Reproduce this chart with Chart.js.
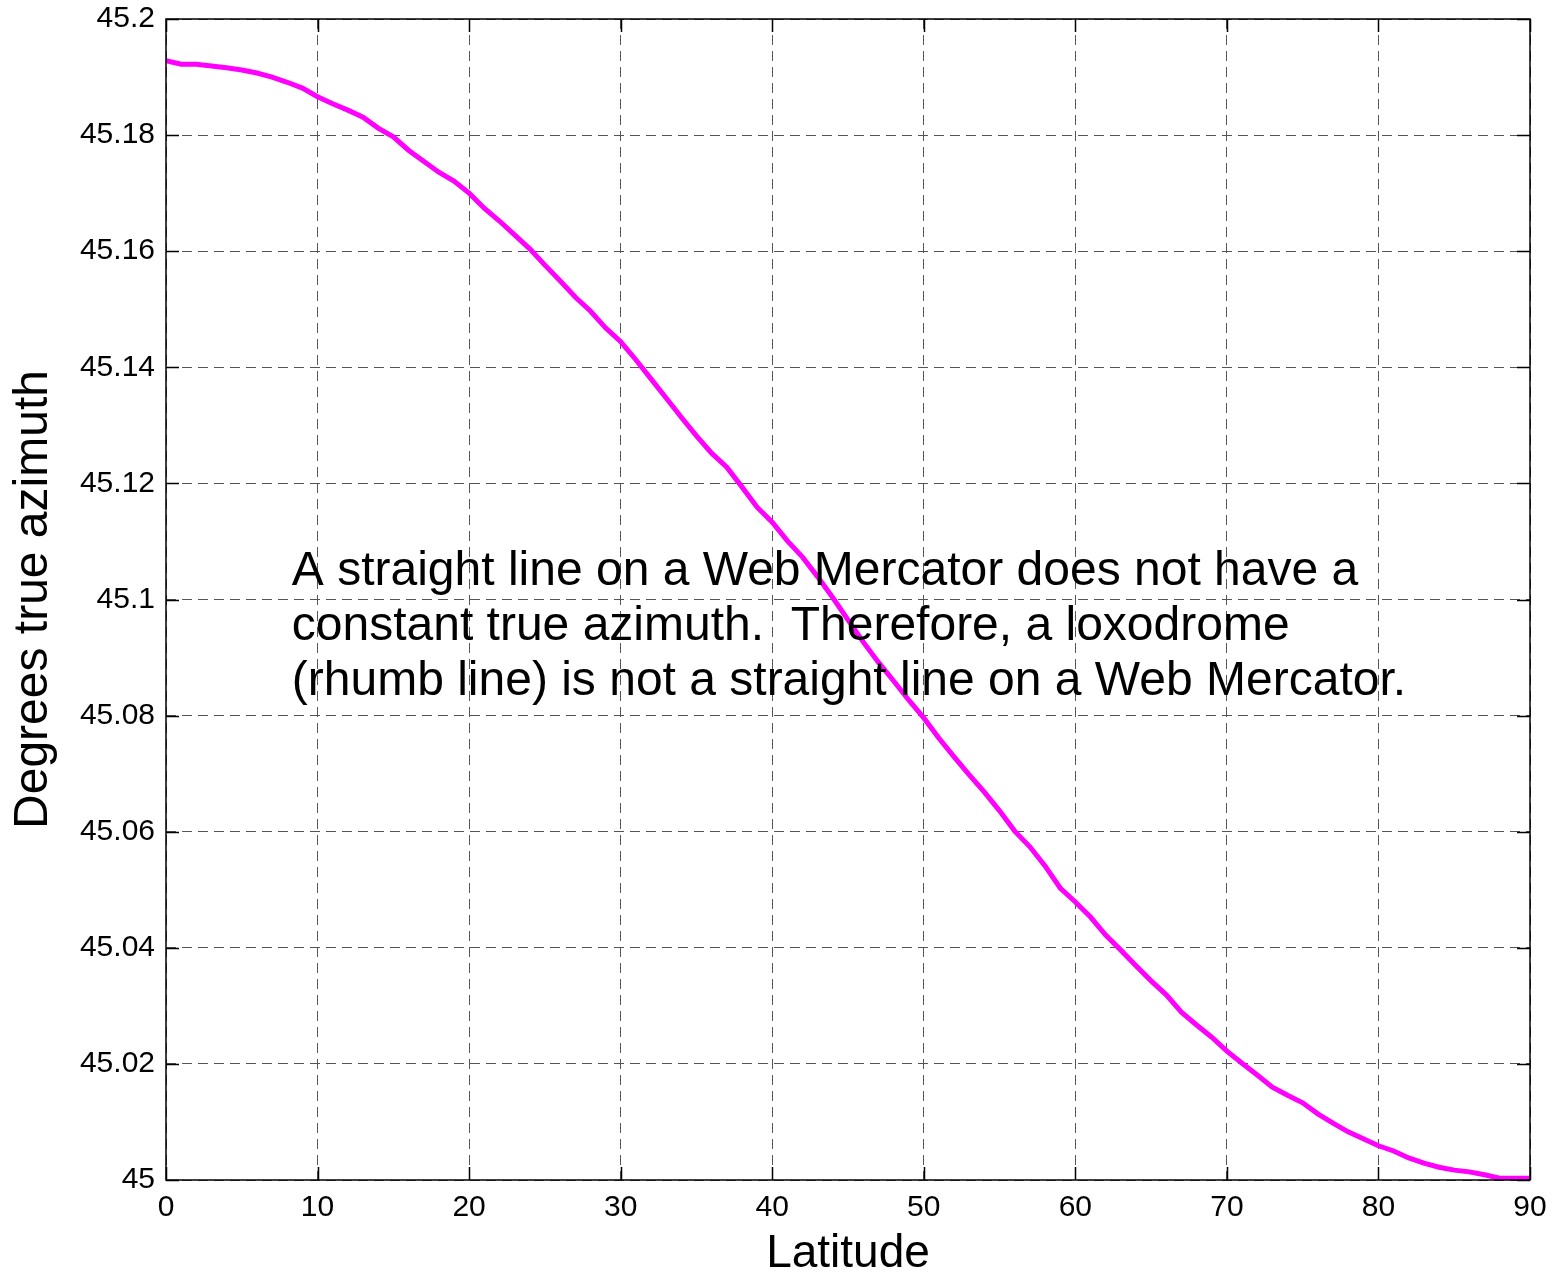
<!DOCTYPE html>
<html>
<head>
<meta charset="utf-8">
<script src="https://cdn.jsdelivr.net/npm/chart.js@4"></script>
<style>
  html, body { margin: 0; padding: 0; background: #fff; }
  #wrap { width: 1558px; height: 1277px; }
</style>
</head>
<body>
<div id="wrap"><canvas id="c"></canvas></div>
<script>
const latitudes = [0,1,2,3,4,5,6,7,8,9,10,11,12,13,14,15,16,17,18,19,20,21,22,23,24,25,26,27,28,29,30,31,32,33,34,35,36,37,38,39,40,41,42,43,44,45,46,47,48,49,50,51,52,53,54,55,56,57,58,59,60,61,62,63,64,65,66,67,68,69,70,71,72,73,74,75,76,77,78,79,80,81,82,83,84,85,86,87,88,89,90];
const azimuth = [45.1928,45.1922,45.1922,45.1919,45.1916,45.1912,45.1907,45.1900,45.1891,45.1881,
  45.1866,45.1854,45.1843,45.1831,45.1812,45.1797,45.1774,45.1755,45.1736,45.1721,
  45.1700,45.1674,45.1652,45.1628,45.1604,45.1576,45.1549,45.1521,45.1497,45.1468,
  45.1444,45.1413,45.1380,45.1347,45.1314,45.1282,45.1252,45.1228,45.1194,45.1159,
  45.1133,45.1101,45.1073,45.1039,45.1003,45.0965,45.0927,45.0892,45.0860,45.0827,
  45.0796,45.0761,45.0729,45.0698,45.0668,45.0636,45.0601,45.0574,45.0541,45.0503,
  45.0479,45.0453,45.0422,45.0396,45.0369,45.0343,45.0319,45.0289,45.0267,45.0246,
  45.0222,45.0201,45.0181,45.0160,45.0146,45.0133,45.0114,45.0098,45.0083,45.0071,
  45.0059,45.0050,45.0038,45.0029,45.0022,45.0017,45.0014,45.0009,45.0003,45.0003,45.0003];
const xTicks = [0,10,20,30,40,50,60,70,80,90];
const xTickLabels = ['0','10','20','30','40','50','60','70','80','90'];
const yTicks = [45,45.02,45.04,45.06,45.08,45.1,45.12,45.14,45.16,45.18,45.2];
const yTickLabels = ['45','45.02','45.04','45.06','45.08','45.1','45.12','45.14','45.16','45.18','45.2'];
const xTitle = 'Latitude';
const yTitle = 'Degrees true azimuth';
const noteLines = [
  'A straight line on a Web Mercator does not have a',
  'constant true azimuth.  Therefore, a loxodrome',
  '(rhumb line) is not a straight line on a Web Mercator.'
];
const noteAnchor = { x: 8.3, y: 45.1025 };

const FONT = '"Liberation Sans", Arial, Helvetica, sans-serif';

const boxPlugin = {
  id: 'boxPlugin',
  afterDatasetsDraw(chart) {
    const ctx = chart.ctx;
    const xs = chart.scales.x, ys = chart.scales.y;
    const px = xs.getPixelForValue(noteAnchor.x);
    const py = ys.getPixelForValue(noteAnchor.y);
    ctx.save();
    ctx.fillStyle = '#000';
    ctx.font = '48px ' + FONT;
    ctx.textAlign = 'left';
    ctx.textBaseline = 'alphabetic';
    noteLines.forEach((t, i) => ctx.fillText(t, px, py + i * 55));
    ctx.restore();
  },
  afterDraw(chart) {
    const ctx = chart.ctx;
    const a = chart.chartArea;
    const xs = chart.scales.x, ys = chart.scales.y;
    const tl = 13;
    ctx.save();
    ctx.strokeStyle = '#000';
    ctx.lineWidth = 1.5;
    ctx.beginPath();
    xTicks.forEach(v => {
      const p = Math.round(xs.getPixelForValue(v)) + 0.5;
      ctx.moveTo(p, a.bottom); ctx.lineTo(p, a.bottom - tl);
      ctx.moveTo(p, a.top); ctx.lineTo(p, a.top + tl);
    });
    yTicks.forEach(v => {
      const p = Math.round(ys.getPixelForValue(v)) + 0.5;
      ctx.moveTo(a.left, p); ctx.lineTo(a.left + tl, p);
      ctx.moveTo(a.right, p); ctx.lineTo(a.right - tl, p);
    });
    ctx.stroke();
    ctx.strokeRect(a.left, a.top, a.right - a.left, a.bottom - a.top);
    ctx.restore();
  }
};

new Chart(document.getElementById('c'), {
  type: 'line',
  data: {
    datasets: [{
      data: latitudes.map((x, i) => ({ x: x, y: azimuth[i] })),
      borderColor: '#ff00ff',
      borderWidth: 5,
      pointRadius: 0,
      tension: 0,
      fill: false
    }]
  },
  options: {
    responsive: true,
    maintainAspectRatio: false,
    animation: false,
    layout: { padding: { top: 19, right: 28, left: 0, bottom: 0 } },
    plugins: { legend: { display: false }, tooltip: { enabled: false }, title: { display: false } },
    scales: {
      x: {
        type: 'linear',
        min: 0, max: 90,
        afterBuildTicks: s => { s.ticks = xTicks.map(v => ({ value: v })); },
        afterFit: s => { s.height = 97; s.paddingLeft = 0; s.paddingRight = 0; },
        ticks: {
          callback: (v, i) => xTickLabels[i],
          color: '#000',
          font: { family: FONT, size: 30 },
          padding: 10,
          maxRotation: 0,
          autoSkip: false
        },
        grid: { color: '#555', lineWidth: 1, drawTicks: false },
        border: { display: false, dash: [10, 6] },
        title: {
          display: true, text: xTitle, color: '#000',
          font: { family: FONT, size: 46, lineHeight: 1 },
          padding: { top: 0, bottom: 0 }
        }
      },
      y: {
        type: 'linear',
        min: 45, max: 45.2,
        afterBuildTicks: s => { s.ticks = yTicks.map(v => ({ value: v })); },
        afterFit: s => { s.width = 166; s.paddingTop = 0; s.paddingBottom = 0; },
        ticks: {
          callback: (v, i) => yTickLabels[i],
          color: '#000',
          font: { family: FONT, size: 30 },
          padding: 11,
          autoSkip: false
        },
        grid: { color: '#555', lineWidth: 1, drawTicks: false },
        border: { display: false, dash: [10, 6] },
        title: {
          display: true, text: yTitle, color: '#000',
          font: { family: FONT, size: 48, lineHeight: 1 },
          padding: { top: 10, bottom: 0 }
        }
      }
    }
  },
  plugins: [boxPlugin]
});
</script>
</body>
</html>
